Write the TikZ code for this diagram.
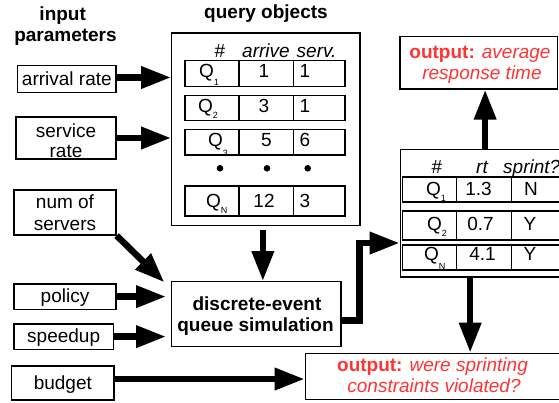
\documentclass[tikz,border=0pt]{standalone}
\usepackage{fontspec}
\setmainfont{Liberation Sans}
\usetikzlibrary{arrows.meta,calc}
\definecolor{outred}{RGB}{255,51,51}
\newcommand{\qsub}[2]{Q\raisebox{-#2pt}{\fontsize{9}{9}\selectfont #1}}
\begin{document}
\begin{tikzpicture}[x=1pt,y=-1pt,
  font=\fontsize{19}{21}\selectfont,
  box/.style={draw, line width=1.2pt, inner sep=0pt},
  sbox/.style={box, text height=14pt, text depth=2pt},
  txt/.style={inner sep=0pt, anchor=base},
  ltxt/.style={inner sep=0pt, anchor=base west},
  btxt/.style={txt, font=\fontsize{19}{21}\selectfont\bfseries},
  rtxt/.style={txt, text=outred},
  divline/.style={line width=1.2pt},
  dotnode/.style={circle, fill, inner sep=0pt, minimum size=6.6pt},
  bigarrow/.style={line width=6.5pt, -{Triangle[length=30pt,width=21pt]}},
]
\useasboundingbox (0,0) rectangle (559,402);

% titles
\node[btxt] (tin1) at (62.7,20) {input};
\node[btxt] (tin2) at (65.5,41.5) {parameters};
\node[btxt] (tqo) at (266,18.5) {query objects};

% input boxes
\node[sbox, minimum width=98.3pt, minimum height=26.6pt] (arrival) at (66.85,79) {arrival rate};
\node[box, minimum width=100pt, minimum height=42pt] (service) at (66,138) {};
\node[txt] (servt1) at (66,137) {service};
\node[txt] (servt2) at (66,157.5) {rate};
\node[box, minimum width=102pt, minimum height=45pt] (num) at (65,212.5) {};
\node[txt] (numt1) at (65,208.5) {num of};
\node[txt] (numt2) at (65,230) {servers};
\node[sbox, minimum width=102pt, minimum height=25.3pt] (policy) at (65,296.6) {policy};
\node[sbox, minimum width=99.3pt, minimum height=25.3pt] (speedup) at (63.65,336.6) {speedup};
\node[sbox, minimum width=102.3pt, minimum height=34pt] (budget) at (62.85,383) {budget};

% query objects table
\node[box, minimum width=188.3pt, minimum height=192.7pt] (query) at (265.85,129.35) {};
\node[txt] (qh1) at (220,57.5) {\#};
\node[ltxt] (qh2) at (242,57.5) {\itshape arrive};
\node[ltxt] (qh3) at (296.5,57.5) {\itshape serv.};

\node[box, minimum width=160pt, minimum height=26pt] (qr1) at (265,73.7) {};
\node[box, minimum width=160pt, minimum height=25pt] (qr2) at (265,108.2) {};
\node[box, minimum width=160pt, minimum height=25.5pt] (qr3) at (265,142.25) {};
\node[box, minimum width=160pt, minimum height=30pt] (qrN) at (265,201) {};
\foreach \r in {qr1,qr2,qr3,qrN}{
  \draw[divline] ([xshift=54.5pt]\r.north west) -- ([xshift=54.5pt]\r.south west);
  \draw[divline] ([xshift=109.3pt]\r.north west) -- ([xshift=109.3pt]\r.south west);
}
\node[ltxt] (q1a) at (199,77) {\qsub{1}{8.5}};
\node[txt] (q1b) at (264,77) {1};
\node[ltxt] (q1c) at (299.5,77) {1};
\node[ltxt] (q2a) at (198,112) {\qsub{2}{6.5}};
\node[txt] (q2b) at (264,112) {3};
\node[ltxt] (q2c) at (299.5,112) {1};
\node[ltxt] (q3a) at (208,146.7) {\qsub{3}{9.5}};
\node[txt] (q3b) at (266.5,146.7) {5};
\node[ltxt] (q3c) at (299.5,146.7) {6};
\node[dotnode] (dot1) at (220,168.3) {};
\node[dotnode] (dot2) at (267,168.3) {};
\node[dotnode] (dot3) at (307.7,168.3) {};
\node[ltxt] (qNa) at (206,207) {\qsub{N}{6}};
\node[txt] (qNb) at (264,207) {12};
\node[ltxt] (qNc) at (299.5,207) {3};

% simulation box
\node[box, minimum width=169.3pt, minimum height=65pt] (sim) at (256.35,314.2) {};
\node[btxt] (simt1) at (257,310.5) {discrete-event};
\node[btxt] (simt2) at (255.5,331.5) {queue simulation};

% results table
\node[box, minimum width=169.7pt, minimum height=127.7pt] (res) at (485.15,213.15) {};
\node[txt] (rh1) at (437,173) {\#};
\node[txt] (rh2) at (482,173) {\itshape rt};
\node[ltxt] (rh3) at (503,173) {\itshape sprint?};
\node[box, minimum width=165.5pt, minimum height=25pt] (rr1) at (485.25,189.5) {};
\node[box, minimum width=165.5pt, minimum height=29pt] (rr2) at (485.25,225.5) {};
\node[box, minimum width=165.5pt, minimum height=25pt] (rrN) at (485.25,257.5) {};
\foreach \r in {rr1,rr2,rrN}{
  \draw[divline] ([xshift=54.8pt]\r.north west) -- ([xshift=54.8pt]\r.south west);
  \draw[divline] ([xshift=109.2pt]\r.north west) -- ([xshift=109.2pt]\r.south west);
}
\node[ltxt] (r1a) at (426,195) {\qsub{1}{6.7}};
\node[txt] (r1b) at (478.5,195) {1.3};
\node[txt] (r1c) at (531,195) {N};
\node[ltxt] (r2a) at (427,230.7) {\qsub{2}{5.3}};
\node[txt] (r2b) at (480.5,230.7) {0.7};
\node[txt] (r2c) at (530,230.7) {Y};
\node[ltxt] (rNa) at (424,260) {\qsub{N}{9}};
\node[txt] (rNb) at (482.5,260) {4.1};
\node[txt] (rNc) at (530,260) {Y};

% output boxes
\node[box, minimum width=157.3pt, minimum height=52.3pt] (out1) at (478.65,62.85) {};
\node[rtxt] (o1a) at (480,58.5) {\textbf{output:} \textit{average}};
\node[rtxt] (o1b) at (482,79.5) {\textit{response time}};
\node[box, minimum width=256.7pt, minimum height=46pt] (out2) at (433.65,376.3) {};
\node[rtxt] (o2a) at (432.5,371.5) {\textbf{output:} \textit{were sprinting}};
\node[rtxt] (o2b) at (434,392.5) {\textit{constraints violated?}};

% connectors
\draw[bigarrow] ([yshift=1.5pt]arrival.east) -- ([yshift=1.5pt]arrival.east -| query.west);
\draw[bigarrow] (service.east) -- (service.east -| query.west);
\draw[bigarrow] (num.south east) -- ($(sim.north west)+(-6.7,1.3)$);
\draw[bigarrow, shorten >=5pt] (policy.east) -- (policy.east -| sim.west);
\draw[bigarrow, shorten >=5pt] (speedup.east) -- (speedup.east -| sim.west);
\draw[bigarrow] ([yshift=4pt]budget.east) -- ([yshift=4pt]budget.east -| out2.west);
\draw[bigarrow, shorten <=4pt] ([xshift=-3pt]query.south) -- ([xshift=-3pt]query.south |- sim.north);
\coordinate (resin) at ([yshift=-29.85pt]res.west);
\draw[bigarrow] ([yshift=-6.5pt]sim.east) -- ++(18,0) |- (resin);
\draw[bigarrow] (res.north) -- (res.north |- out1.south);
\draw[bigarrow] ([xshift=-15pt]res.south) -- ([xshift=-15pt]res.south |- out2.north);
\end{tikzpicture}
\end{document}
